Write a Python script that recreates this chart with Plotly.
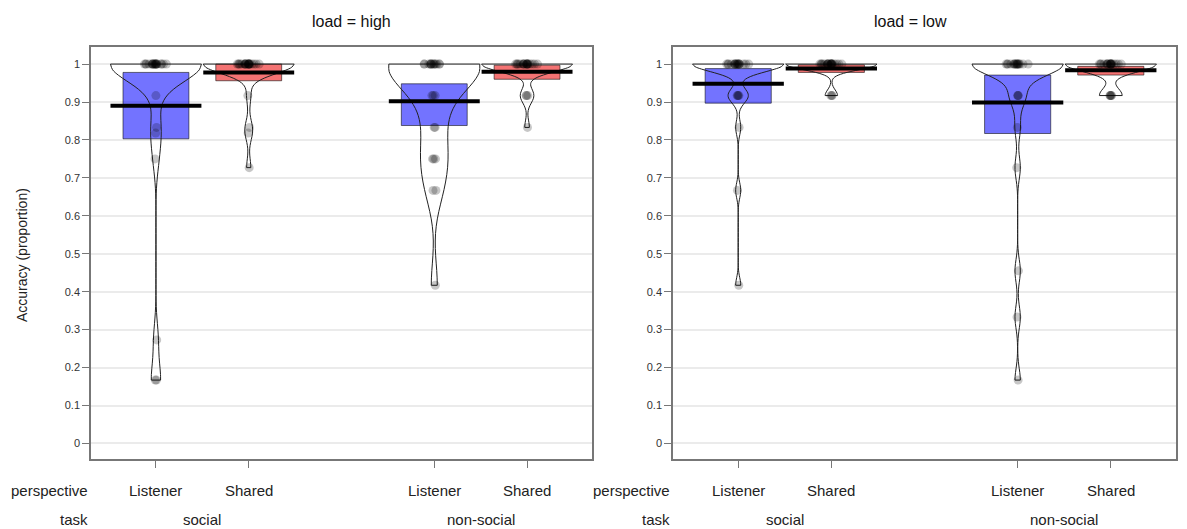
import plotly.graph_objects as go

# ---------------- data ----------------
positions = [1, 2, 4, 5]
perspective_labels = ["Listener", "Shared", "Listener", "Shared"]
task_labels = ["social", "non-social"]
task_centers = [1.5, 4.5]
panel_titles = ["load = high", "load = low"]
y_ticks = [0, 0.1, 0.2, 0.3, 0.4, 0.5, 0.6, 0.7, 0.8, 0.9, 1]
y_ticktext = ["0", "0.1", "0.2", "0.3", "0.4", "0.5", "0.6", "0.7", "0.8", "0.9", "1"]

# load = high
high_social_listener = [1, 1, 1, 1, 1, 1, 1, 1, 1, 1, 1, 1, 1, 1, 1, 1, 1, 1, 1, 1,
                        0.917, 0.833, 0.818, 0.75, 0.273, 0.167, 0.167]
high_social_shared = [1, 1, 1, 1, 1, 1, 1, 1, 1, 1, 1, 1, 1, 1, 1, 1, 1, 1, 1, 1, 1, 1,
                      0.917, 0.833, 0.818, 0.727]
high_nonsocial_listener = [1, 1, 1, 1, 1, 1, 1, 1, 1, 1, 1, 1, 1, 1,
                           0.917, 0.917, 0.917, 0.833, 0.833, 0.75, 0.75, 0.75,
                           0.667, 0.667, 0.417]
high_nonsocial_shared = [1, 1, 1, 1, 1, 1, 1, 1, 1, 1, 1, 1, 1, 1, 1, 1, 1, 1, 1, 1,
                         0.917, 0.917, 0.917, 0.833]

# load = low
low_social_listener = [1, 1, 1, 1, 1, 1, 1, 1, 1, 1, 1, 1, 1, 1, 1, 1, 1, 1,
                       0.917, 0.917, 0.917, 0.917, 0.833, 0.667, 0.417]
low_social_shared = [1, 1, 1, 1, 1, 1, 1, 1, 1, 1, 1, 1, 1, 1, 1, 1, 1, 1, 1, 1, 1, 1,
                     0.917, 0.917, 0.917]
low_nonsocial_listener = [1, 1, 1, 1, 1, 1, 1, 1, 1, 1, 1, 1, 1, 1, 1, 1, 1,
                          0.917, 0.917, 0.917, 0.833, 0.727, 0.455, 0.333, 0.167]
low_nonsocial_shared = [1, 1, 1, 1, 1, 1, 1, 1, 1, 1, 1, 1, 1, 1, 1, 1, 1, 1, 1, 1,
                        0.917, 0.917, 0.917, 0.917, 0.917]

high_groups = [high_social_listener, high_social_shared, high_nonsocial_listener, high_nonsocial_shared]
low_groups = [low_social_listener, low_social_shared, low_nonsocial_listener, low_nonsocial_shared]

# means (bar line) and inference bands
high_means = [0.890, 0.978, 0.902, 0.980]
low_means = [0.948, 0.988, 0.899, 0.984]
high_inf_lo = [0.803, 0.956, 0.838, 0.960]
high_inf_hi = [0.978, 1.000, 0.948, 0.997]
low_inf_lo = [0.897, 0.978, 0.817, 0.971]
low_inf_hi = [0.988, 0.998, 0.971, 0.994]

# kernel bandwidths for the beans
high_bw = [0.045, 0.025, 0.06, 0.02]
low_bw = [0.02, 0.015, 0.03, 0.02]

# ---------------- styling ----------------
W, H = 1187, 529
box_colors = ["rgba(0,0,255,0.55)", "rgba(235,0,0,0.55)", "rgba(0,0,255,0.55)", "rgba(235,0,0,0.55)"]
bean_width = 0.98
box_width = 0.71
font_family = "Liberation Sans, Arial, sans-serif"

x_domains = [[91 / W, 592 / W], [673 / W, 1176 / W]]
y_domain = [1 - 459 / H, 1 - 47 / H]
x_range = [0.3, 5.7]
y_range = [-0.041, 1.045]

fig = go.Figure()

panels = [
    (high_groups, high_means, high_inf_lo, high_inf_hi, high_bw),
    (low_groups, low_means, low_inf_lo, low_inf_hi, low_bw),
]

for p, (groups, means, lo, hi, bws) in enumerate(panels):
    xa = "x" if p == 0 else "x2"
    ya = "y" if p == 0 else "y2"
    # inference bands
    fig.add_trace(go.Bar(
        x=positions, y=[h - l for h, l in zip(hi, lo)], base=lo,
        width=box_width, marker=dict(color=box_colors, line=dict(color="rgba(0,0,0,0.55)", width=1)),
        xaxis=xa, yaxis=ya, showlegend=False, hoverinfo="skip",
    ))
    # beans + points
    for i, vals in enumerate(groups):
        fig.add_trace(go.Violin(
            y=vals, x0=positions[i], width=bean_width, scalemode="width",
            spanmode="hard", bandwidth=bws[i],
            fillcolor="rgba(255,255,255,0)", line=dict(color="#222222", width=1),
            points="all", pointpos=0, jitter=0.26,
            marker=dict(color="rgba(0,0,0,0.22)", size=9, line=dict(width=0)),
            box_visible=False, meanline_visible=False,
            xaxis=xa, yaxis=ya, showlegend=False, hoverinfo="skip",
        ))
    # mean lines
    for i, m in enumerate(means):
        fig.add_trace(go.Scatter(
            x=[positions[i] - bean_width / 2, positions[i] + bean_width / 2], y=[m, m],
            mode="lines", line=dict(color="black", width=4),
            xaxis=xa, yaxis=ya, showlegend=False, hoverinfo="skip",
        ))

axis_common_x = dict(
    range=x_range, tickvals=positions, showticklabels=False, ticks="outside",
    ticklen=7, tickcolor="#777777", tickwidth=1, showgrid=False, zeroline=False,
    showline=True, linecolor="#777777", linewidth=1.5, mirror=True, fixedrange=True,
)
axis_common_y = dict(
    range=y_range, tickvals=y_ticks, ticktext=y_ticktext, ticks="outside",
    ticklen=7, tickcolor="#777777", tickwidth=1, showgrid=True, gridcolor="#ebebeb",
    gridwidth=1.5, zeroline=False, showline=True, linecolor="#777777", linewidth=1.5,
    mirror=True, tickfont=dict(size=11, color="#333333", family=font_family),
    fixedrange=True,
)

fig.update_layout(
    width=W, height=H, margin=dict(l=0, r=0, t=0, b=0),
    paper_bgcolor="white", plot_bgcolor="white",
    barmode="overlay", violinmode="overlay",
    font=dict(family=font_family, color="#222222"),
    xaxis=dict(domain=x_domains[0], anchor="y", **axis_common_x),
    xaxis2=dict(domain=x_domains[1], anchor="y2", **axis_common_x),
    yaxis=dict(domain=y_domain, anchor="x", **axis_common_y),
    yaxis2=dict(domain=y_domain, anchor="x2", **axis_common_y),
)

annotations = []
title_x = [351 / W, 910 / W]
for p in range(2):
    xr = "x" if p == 0 else "x2"
    annotations.append(dict(text=panel_titles[p], x=title_x[p], y=1 - 22 / H, xref="paper", yref="paper",
                            xanchor="center", yanchor="middle",
                            showarrow=False, font=dict(size=16, color="#111111")))
    annotations.append(dict(text="perspective", x=x_range[0], y=1 - 490 / H, xref=xr, yref="paper",
                            xanchor="right", yanchor="middle", xshift=-1,
                            showarrow=False, font=dict(size=15, color="#222222")))
    annotations.append(dict(text="task", x=x_range[0], y=1 - 519 / H, xref=xr, yref="paper",
                            xanchor="right", yanchor="middle", xshift=-1,
                            showarrow=False, font=dict(size=15, color="#222222")))
    for i, lab in enumerate(perspective_labels):
        annotations.append(dict(text=lab, x=positions[i], y=1 - 490 / H, xref=xr, yref="paper",
                                xanchor="center", yanchor="middle",
                                showarrow=False, font=dict(size=15, color="#222222")))
    for j, lab in enumerate(task_labels):
        annotations.append(dict(text=lab, x=task_centers[j], y=1 - 519 / H, xref=xr, yref="paper",
                                xanchor="center", yanchor="middle",
                                showarrow=False, font=dict(size=15, color="#222222")))

annotations.append(dict(text="Accuracy (proportion)", x=22 / W, y=1 - 255 / H, xref="paper", yref="paper",
                        xanchor="center", yanchor="middle",
                        textangle=-90, showarrow=False, font=dict(size=14, color="#222222")))
fig.update_layout(annotations=annotations)

fig.write_html("out.html")
